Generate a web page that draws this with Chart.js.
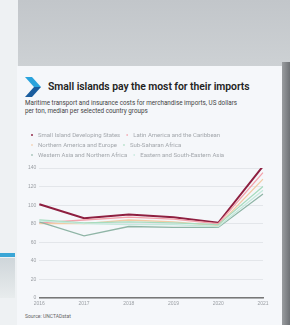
<!DOCTYPE html>
<html>
<head>
<meta charset="utf-8">
<script src="https://cdn.jsdelivr.net/npm/chart.js@4.4.1/dist/chart.umd.min.js"></script>
<style>
  body { margin: 0; width: 290px; height: 325px; overflow: hidden; background: #eef1f3; font-family: "Roboto", "Liberation Sans", sans-serif; position: relative; }
  .top { position: absolute; left: 18px; top: 0; width: 272px; height: 66px; background: linear-gradient(#c2c6ca, #cdd1d4); }
  .shade { position: absolute; left: 282px; top: 62px; width: 8px; height: 263px; background: linear-gradient(90deg, #9a9da0, #6f7276); }
  .leftbar { position: absolute; left: 0; top: 253px; width: 15px; height: 4px; background: #3aa6d6; }
  .leftbar2 { position: absolute; left: 0; top: 258px; width: 15px; height: 40px; background: linear-gradient(#cfd6da, #e8eced); }
  .card { position: absolute; left: 17px; top: 66px; width: 265px; height: 259px; background: #f5f7fa; }
  .chev { position: absolute; left: 8px; top: 11px; }
  .title { position: absolute; left: 31px; top: 14px; font-size: 10.4px; font-weight: 600; color: #222; letter-spacing: -0.05px; }
  .sub { position: absolute; left: 8px; top: 34px; width: 216px; font-size: 6.3px; line-height: 7.8px; color: #444; }
  .src { position: absolute; left: 8px; top: 247px; font-size: 5px; color: #666; }
  #wrap { position: absolute; left: 3px; top: 62px; width: 258px; height: 182px; }
</style>
</head>
<body>
<div class="top"></div>
<div class="shade"></div>
<div class="leftbar"></div>
<div class="leftbar2"></div>
<div class="card">
  <svg class="chev" width="18" height="20" viewBox="0 0 18 20">
    <polygon points="0,0 7,0 16,10 9,10" fill="#2aa3dc"/>
    <polygon points="9,10 16,10 7,20 0,20" fill="#1a5d9e"/>
  </svg>
  <div class="title">Small islands pay the most for their imports</div>
  <div class="sub">Maritime transport and insurance costs for merchandise imports, US dollars per ton, median per selected country groups</div>
  <div id="wrap"><canvas id="myChart"></canvas></div>
  <div class="src">Source: UNCTADstat</div>
</div>
<script>
// years on the x axis
let years = ['2016', '2017', '2018', '2019', '2020', '2021']

// US dollars per ton
let sids = [101, 86, 90, 87, 81, 142]
let latinAmerica = [81, 84, 87, 85, 80, 135]
let northAmericaEurope = [80, 80, 84, 82, 78, 128]
let subSaharan = [84, 81, 82, 81, 79, 120]
let westAsiaNorthAfrica = [82, 67, 77, 76, 76, 112]
let eastAsia = [83, 80, 79, 79, 77, 116]

let names = [
    'Small Island Developing States',
    'Latin America and the Caribbean',
    'Northern America and Europe',
    'Sub-Saharan Africa',
    'Western Asia and Northern Africa',
    'Eastern and South-Eastern Asia'
]
let colors = ['#8e1f40', '#f3a2ab', '#f3caa4', '#a7dcbf', '#8fb5a6', '#c4e9dc']
let series = [sids, latinAmerica, northAmericaEurope, subSaharan, westAsiaNorthAfrica, eastAsia]

let datasets = []
for (var i = 0; i < series.length; i++) {
    datasets.push({
        label: names[i],
        data: series[i],
        borderColor: colors[i],
        backgroundColor: colors[i],
        borderWidth: i == 0 ? 2 : 1.3,
        pointRadius: 0,
        tension: 0,
        order: series.length - i   // red line on top
    })
}

var ctx = document.getElementById('myChart')
var myChart = new Chart(ctx, {
    type: 'line',
    data: { labels: years, datasets: datasets },
    options: {
        responsive: true,
        maintainAspectRatio: false,
        animation: false,
        layout: { padding: { left: 5, right: 15, top: 0, bottom: 0 } },
        plugins: {
            legend: {
                position: 'top',
                align: 'start',
                labels: {
                    usePointStyle: true,
                    pointStyle: 'line',
                    boxWidth: 7,
                    boxHeight: 1,
                    padding: 4,
                    color: '#a3a7ac',
                    font: { size: 6, family: 'Roboto' },
                    sort: function(a, b) { return a.datasetIndex - b.datasetIndex }
                }
            },
            tooltip: { enabled: false }
        },
        scales: {
            x: {
                grid: { display: false, drawTicks: false },
                border: { color: '#777', width: 1.5 },
                ticks: { color: '#9a9ea3', font: { size: 5 }, padding: 3 }
            },
            y: {
                min: 0,
                max: 140,
                ticks: { stepSize: 20, color: '#9a9ea3', font: { size: 5 }, padding: 3 },
                grid: { color: '#e3e6ea', drawTicks: false },
                border: { display: false }
            }
        }
    }
})
</script>
</body>
</html>
